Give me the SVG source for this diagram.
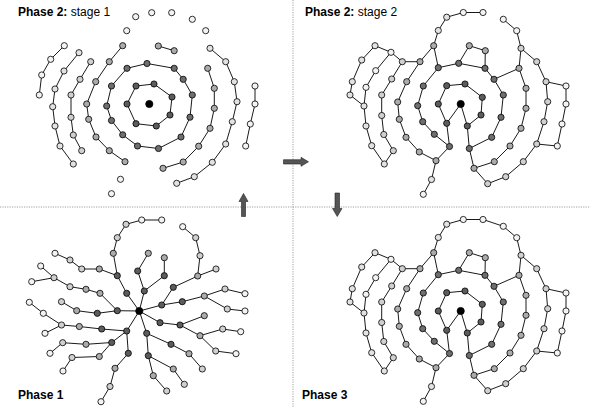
<svg xmlns="http://www.w3.org/2000/svg" width="590" height="407" viewBox="0 0 590 407">
<style>
text{font-family:"Liberation Sans",Arial,sans-serif;font-size:12px;fill:#000}
.b{font-weight:bold}
circle{stroke:#000;stroke-width:0.8}
.e path{stroke:#000;stroke-width:0.9;fill:none;stroke-linejoin:round}
.k0{fill:#000}.k1{fill:#5c5c5c}.k2{fill:#6e6e6e}.k3{fill:#ababab}.k4{fill:#d0d0d0}.k6{fill:#e2e2e2}.k5{fill:#f3f3f3}
.div{stroke:#888;stroke-width:0.8;stroke-dasharray:1.2 1.2;fill:none}
.arr{fill:#555;stroke:#222;stroke-width:0.6}
</style>
<rect width="590" height="407" fill="#fff"/>
<g id="dividers">
<path class="div" d="M0,207H590M293,0V407"/>
</g>
<g id="labels">
<text x="18" y="15.5"><tspan class="b">Phase 2:</tspan> stage 1</text>
<text x="305" y="15.5"><tspan class="b">Phase 2:</tspan> stage 2</text>
<text class="b" x="18" y="399">Phase 1</text>
<text class="b" x="302" y="399">Phase 3</text>
</g>
<g id="arrows">
<path id="arrow-right" class="arr" d="M283.5,159.7H301V157.3L308.5,161.8L301,166.3V164H283.5Z"/>
<path id="arrow-up" class="arr" d="M241.5,216.5V201.5H239L243.5,193.5L248,201.5H245.5V216.5Z"/>
<path id="arrow-down" class="arr" d="M335,193V208.5H332.5L337.25,216.5L342,208.5H339.5V193Z"/>
</g>

<g id="connectors" class="e">
<!-- top-left: stage 1 -->
<path d="M136,86L154,84L172,97L170,115L156.3,126L136,123.7L127,104Z"/>
<path d="M147,63.5L174.2,68.3L183.2,79.3L192.3,95L190,117.2L181,137L158.5,148.5L137.5,146L122.7,134.8L111.5,120.5L106.7,106L111.5,86L127,68.3Z"/>
<path d="M122.7,45.7L109.3,61.7L95.7,81.7L86.7,104L88.7,119.3L96,137L109.3,150.7L125,161.7"/>
<path d="M158.3,46L174.2,50.7"/>
<path d="M207.7,68.3L214.3,88.3L214.3,108.3L210,128.3L198.7,146.2L183.2,162L163,168.3"/>
<path d="M90.7,61.7L80,79.3L71,95L71,117.3L73.3,135L81.7,150.7"/>
<path d="M79,52.7L64,71L55,89L52.7,106.7L55,126L60,146L73.3,164"/>
<path d="M64.3,45.7L50.7,59.3L41.7,75L39.3,95"/>
<path d="M210,48.3L225.7,61.7L234.3,81.7L237,101.7L232.3,121.7L225.7,144L212.3,162.3L194.3,176.7L176.7,183.3"/>
<path d="M255,86L255,104L250.3,124L245.7,146"/>
<!-- top-right: stage 2 -->
<path d="M446.7,123.3L460.7,104L467.3,126"/>
<path d="M446.7,123.3L438.3,104L446.7,85.7L465,84L482.3,97.3L481,115L467.3,126L469.3,148.5"/>
<path d="M446.7,123.3L449.5,146.5"/>
<path d="M469.3,148.5L491.7,137.3L501,117.3L503.3,95L494,79.3L485,68.3L458.7,63.3L438.3,67.7L423.3,86L417.7,105.7L422.7,121.7L434.3,134.3L449.5,146.5"/>
<path d="M458.7,63.3L469.3,45.7L485.3,50.7L485,68.3"/>
<path d="M438.3,67.7L433.7,45.7L438.3,30.5L446.7,17.2L463.3,12.5L483,12.5"/>
<path d="M433.7,45.7L420,61.7L402.3,61.7L391,52.3L375,45.7"/>
<path d="M420,61.7L406.7,81.7L397.7,102L399.3,119.3L406,137.3L419.3,152L436,160.7L449.5,146.5"/>
<path d="M436,160.7L431.5,179.5L423.3,194.3"/>
<path d="M469.3,148.5L474,168.3L487.7,183.7L505.7,176.7L523.3,161.7L536.7,144L544,121.7L547.7,101.7L546,81.7L536.7,61.7L521,48.3"/>
<path d="M474,168.3L494.3,161.7L510,146L521,128.3L526,108.3L526,88.3L519,68.3L494,79.3"/>
<path d="M519,68.3L521,48.3L516.7,30.7L503.3,19.3"/>
<path d="M546,81.7L566,86L566,104L562,124L557.3,146L536.7,144"/>
<path d="M402.3,61.7L391.7,79L381.7,95L381.7,115.5L383.8,134.5L393.3,150.7L384.3,164"/>
<path d="M375,45.7L361.7,60L352.3,81.7L350,95L364,106L366,126L371.7,145.7L384.3,164"/>
<path d="M391,52.3L375.7,70.7L366,87.3L364,106"/>
<!-- bottom-right: phase 3 -->
<path d="M446.7,330.3L460.7,311L467.3,333"/>
<path d="M446.7,330.3L438.3,311L446.7,292.7L465,291L482.3,304.3L481,322L467.3,333L469.3,355.5"/>
<path d="M446.7,330.3L449.5,353.5"/>
<path d="M469.3,355.5L491.7,344.3L501,324.3L503.3,302L494,286.3L485,275.3L458.7,270.3L438.3,274.7L423.3,293L417.7,312.7L422.7,328.7L434.3,341.3L449.5,353.5"/>
<path d="M458.7,270.3L469.3,252.7L485.3,257.7L485,275.3"/>
<path d="M438.3,274.7L433.7,252.7L438.3,237.5L446.7,224.2L463.3,219.5L483,219.5L503.3,226.3"/>
<path d="M433.7,252.7L420,268.7L402.3,268.7L391,259.3L375,252.7"/>
<path d="M420,268.7L406.7,288.7L397.7,309L399.3,326.3L406,344.3L419.3,359L436,367.7L449.5,353.5"/>
<path d="M436,367.7L431.5,386.5L423.3,401.3"/>
<path d="M469.3,355.5L474,375.3L487.7,390.7L505.7,383.7L523.3,368.7L536.7,351L544,328.7L547.7,308.7L546,288.7L536.7,268.7L521,255.3"/>
<path d="M474,375.3L494.3,368.7L510,353L521,335.3L526,315.3L526,295.3L519,275.3L494,286.3"/>
<path d="M519,275.3L521,255.3L516.7,237.7L503.3,226.3"/>
<path d="M546,288.7L566,293L566,311L562,331L557.3,353L536.7,351"/>
<path d="M402.3,268.7L391.7,286L381.7,302L381.7,322.5L383.8,341.5L393.3,357.7L384.3,371"/>
<path d="M375,252.7L361.7,267L352.3,288.7L350,302L364,313L366,333L371.7,352.7L384.3,371"/>
<path d="M391,259.3L375.7,277.7L366,294.3L364,313"/>
<!-- bottom-left: phase 1 -->
<path d="M139.3,311L126.7,293.3L117.3,275.7L113.3,253.3L117.3,237.7L126,224.3L141.7,220L161.7,220"/>
<path d="M117.3,275.7L99.3,269L81.7,269L70,260L55,253.3"/>
<path d="M139.3,311L144.3,291L137.7,271L148.3,253.3"/>
<path d="M144.3,291L164.3,275.7L164.3,257.7"/>
<path d="M139.3,311L161.7,305L173.3,287.3L197.7,276L200,255.7L195.7,237.7L182.7,226.7"/>
<path d="M197.7,276L216,269"/>
<path d="M161.7,305L182.3,301.7L204.3,296L225,289L245,293.7"/>
<path d="M204.3,296L227.3,309L245,311"/>
<path d="M139.3,311L160,322.7L180,325L204.3,315.7"/>
<path d="M180,325L200,335.7L222.7,329L240.7,331.7"/>
<path d="M200,335.7L215.7,351L236,353.7"/>
<path d="M139.3,311L146.7,333.3L171,344.3L189,353.7L202.3,369"/>
<path d="M146.7,333.3L148.3,355.7L173.3,369L184.3,384.3"/>
<path d="M148.3,355.7L153.3,375.7L166.7,391"/>
<path d="M139.3,311L126.7,331L128.3,353.3L115,368.3L110,386.5L101,401.7"/>
<path d="M126.7,331L101.7,329L79.3,326.5L61.5,325L45,333.3"/>
<path d="M61.5,325L43.3,313.3L29.3,302.3"/>
<path d="M126.7,331L111.7,342.5L86,344.3L62.7,342.7L50,353.3"/>
<path d="M111.7,342.5L99.3,356.5L72,357.5L63,371"/>
<path d="M139.3,311L117.3,310.7L100,293.3L86,289.3L70,286.7L54,277.7L40.7,266"/>
<path d="M54,277.7L31.7,281.7"/>
<path d="M117.3,310.7L97.3,313.3L76.7,310.7L61.5,301.7"/>
</g>

<g id="nodes-stage1">
<g id="s1-c"><circle class="k0" cx="149.3" cy="104" r="3.6"/></g>
<g id="s1-a1"><circle class="k1" cx="136" cy="86" r="3.1"/></g>
<g id="s1-a2"><circle class="k1" cx="154" cy="84" r="3.1"/></g>
<g id="s1-a3"><circle class="k1" cx="172" cy="97" r="3.1"/></g>
<g id="s1-a4"><circle class="k1" cx="170" cy="115" r="3.1"/></g>
<g id="s1-a5"><circle class="k1" cx="156.3" cy="126" r="3.1"/></g>
<g id="s1-a6"><circle class="k1" cx="136" cy="123.7" r="3.1"/></g>
<g id="s1-a7"><circle class="k1" cx="127" cy="104" r="3.1"/></g>
<g id="s1-b1"><circle class="k2" cx="147" cy="63.5" r="3.1"/></g>
<g id="s1-b2"><circle class="k2" cx="174.2" cy="68.3" r="3.1"/></g>
<g id="s1-b3"><circle class="k2" cx="183.2" cy="79.3" r="3.1"/></g>
<g id="s1-b4"><circle class="k2" cx="192.3" cy="95" r="3.1"/></g>
<g id="s1-b5"><circle class="k2" cx="190" cy="117.2" r="3.1"/></g>
<g id="s1-b6"><circle class="k2" cx="181" cy="137" r="3.1"/></g>
<g id="s1-b7"><circle class="k2" cx="158.5" cy="148.5" r="3.1"/></g>
<g id="s1-b8"><circle class="k2" cx="137.5" cy="146" r="3.1"/></g>
<g id="s1-b9"><circle class="k2" cx="122.7" cy="134.8" r="3.1"/></g>
<g id="s1-b10"><circle class="k2" cx="111.5" cy="120.5" r="3.1"/></g>
<g id="s1-b11"><circle class="k2" cx="106.7" cy="106" r="3.1"/></g>
<g id="s1-b12"><circle class="k2" cx="111.5" cy="86" r="3.1"/></g>
<g id="s1-b13"><circle class="k2" cx="127" cy="68.3" r="3.1"/></g>
<g id="s1-d1"><circle class="k3" cx="122.7" cy="45.7" r="3.1"/></g>
<g id="s1-d2"><circle class="k3" cx="109.3" cy="61.7" r="3.1"/></g>
<g id="s1-d3"><circle class="k3" cx="95.7" cy="81.7" r="3.1"/></g>
<g id="s1-d4"><circle class="k3" cx="86.7" cy="104" r="3.1"/></g>
<g id="s1-d5"><circle class="k3" cx="88.7" cy="119.3" r="3.1"/></g>
<g id="s1-d6"><circle class="k3" cx="96" cy="137" r="3.1"/></g>
<g id="s1-d7"><circle class="k3" cx="109.3" cy="150.7" r="3.1"/></g>
<g id="s1-d8"><circle class="k3" cx="125" cy="161.7" r="3.1"/></g>
<g id="s1-p1"><circle class="k3" cx="158.3" cy="46" r="3.1"/></g>
<g id="s1-p2"><circle class="k3" cx="174.2" cy="50.7" r="3.1"/></g>
<g id="s1-m1"><circle class="k3" cx="207.7" cy="68.3" r="3.1"/></g>
<g id="s1-m2"><circle class="k3" cx="214.3" cy="88.3" r="3.1"/></g>
<g id="s1-m3"><circle class="k3" cx="214.3" cy="108.3" r="3.1"/></g>
<g id="s1-m4"><circle class="k3" cx="210" cy="128.3" r="3.1"/></g>
<g id="s1-m5"><circle class="k3" cx="198.7" cy="146.2" r="3.1"/></g>
<g id="s1-m6"><circle class="k3" cx="183.2" cy="162" r="3.1"/></g>
<g id="s1-m7"><circle class="k3" cx="163" cy="168.3" r="3.1"/></g>
<g id="s1-c1"><circle class="k4" cx="90.7" cy="61.7" r="3.1"/></g>
<g id="s1-c2"><circle class="k4" cx="80" cy="79.3" r="3.1"/></g>
<g id="s1-c3"><circle class="k4" cx="71" cy="95" r="3.1"/></g>
<g id="s1-c4"><circle class="k4" cx="71" cy="117.3" r="3.1"/></g>
<g id="s1-c5"><circle class="k4" cx="73.3" cy="135" r="3.1"/></g>
<g id="s1-c6"><circle class="k4" cx="81.7" cy="150.7" r="3.1"/></g>
<g id="s1-e1"><circle class="k6" cx="79" cy="52.7" r="3.1"/></g>
<g id="s1-e2"><circle class="k6" cx="64" cy="71" r="3.1"/></g>
<g id="s1-e3"><circle class="k6" cx="55" cy="89" r="3.1"/></g>
<g id="s1-e4"><circle class="k6" cx="52.7" cy="106.7" r="3.1"/></g>
<g id="s1-e5"><circle class="k6" cx="55" cy="126" r="3.1"/></g>
<g id="s1-e6"><circle class="k6" cx="60" cy="146" r="3.1"/></g>
<g id="s1-e7"><circle class="k6" cx="73.3" cy="164" r="3.1"/></g>
<g id="s1-f1"><circle class="k5" cx="64.3" cy="45.7" r="3.1"/></g>
<g id="s1-f2"><circle class="k5" cx="50.7" cy="59.3" r="3.1"/></g>
<g id="s1-f3"><circle class="k5" cx="41.7" cy="75" r="3.1"/></g>
<g id="s1-f4"><circle class="k5" cx="39.3" cy="95" r="3.1"/></g>
<g id="s1-g1"><circle class="k6" cx="210" cy="48.3" r="3.1"/></g>
<g id="s1-g2"><circle class="k6" cx="225.7" cy="61.7" r="3.1"/></g>
<g id="s1-g3"><circle class="k6" cx="234.3" cy="81.7" r="3.1"/></g>
<g id="s1-g4"><circle class="k6" cx="237" cy="101.7" r="3.1"/></g>
<g id="s1-g5"><circle class="k6" cx="232.3" cy="121.7" r="3.1"/></g>
<g id="s1-g6"><circle class="k6" cx="225.7" cy="144" r="3.1"/></g>
<g id="s1-g7"><circle class="k6" cx="212.3" cy="162.3" r="3.1"/></g>
<g id="s1-g8"><circle class="k6" cx="194.3" cy="176.7" r="3.1"/></g>
<g id="s1-g9"><circle class="k6" cx="176.7" cy="183.3" r="3.1"/></g>
<g id="s1-h1"><circle class="k5" cx="255" cy="86" r="3.1"/></g>
<g id="s1-h2"><circle class="k5" cx="255" cy="104" r="3.1"/></g>
<g id="s1-h3"><circle class="k5" cx="250.3" cy="124" r="3.1"/></g>
<g id="s1-h4"><circle class="k5" cx="245.7" cy="146" r="3.1"/></g>
<g id="s1-t1"><circle class="k5" cx="126.7" cy="30.7" r="3.1"/></g>
<g id="s1-t2"><circle class="k5" cx="135.7" cy="16.7" r="3.1"/></g>
<g id="s1-t3"><circle class="k5" cx="151.7" cy="12.7" r="3.1"/></g>
<g id="s1-t4"><circle class="k5" cx="171.7" cy="12.7" r="3.1"/></g>
<g id="s1-t5"><circle class="k5" cx="192.3" cy="19.3" r="3.1"/></g>
<g id="s1-t6"><circle class="k5" cx="205.7" cy="30.7" r="3.1"/></g>
<g id="s1-u1"><circle class="k5" cx="120.5" cy="179.3" r="3.1"/></g>
<g id="s1-u2"><circle class="k5" cx="111.5" cy="193.7" r="3.1"/></g>
</g>

<g id="nodes-stage2">
<g id="s2-c"><circle class="k0" cx="460.7" cy="104" r="3.6"/></g>
<g id="s2-i1"><circle class="k1" cx="446.7" cy="123.3" r="3.1"/></g>
<g id="s2-i2"><circle class="k1" cx="438.3" cy="104" r="3.1"/></g>
<g id="s2-i3"><circle class="k1" cx="446.7" cy="85.7" r="3.1"/></g>
<g id="s2-i4"><circle class="k1" cx="465" cy="84" r="3.1"/></g>
<g id="s2-i5"><circle class="k1" cx="482.3" cy="97.3" r="3.1"/></g>
<g id="s2-i6"><circle class="k1" cx="481" cy="115" r="3.1"/></g>
<g id="s2-i7"><circle class="k1" cx="467.3" cy="126" r="3.1"/></g>
<g id="s2-r1"><circle class="k2" cx="469.3" cy="148.5" r="3.1"/></g>
<g id="s2-r2"><circle class="k2" cx="491.7" cy="137.3" r="3.1"/></g>
<g id="s2-r3"><circle class="k2" cx="501" cy="117.3" r="3.1"/></g>
<g id="s2-r4"><circle class="k2" cx="503.3" cy="95" r="3.1"/></g>
<g id="s2-r5"><circle class="k2" cx="494" cy="79.3" r="3.1"/></g>
<g id="s2-r6"><circle class="k2" cx="485" cy="68.3" r="3.1"/></g>
<g id="s2-r7"><circle class="k2" cx="458.7" cy="63.3" r="3.1"/></g>
<g id="s2-r8"><circle class="k2" cx="438.3" cy="67.7" r="3.1"/></g>
<g id="s2-r9"><circle class="k2" cx="423.3" cy="86" r="3.1"/></g>
<g id="s2-r10"><circle class="k2" cx="417.7" cy="105.7" r="3.1"/></g>
<g id="s2-r11"><circle class="k2" cx="422.7" cy="121.7" r="3.1"/></g>
<g id="s2-r12"><circle class="k2" cx="434.3" cy="134.3" r="3.1"/></g>
<g id="s2-r13"><circle class="k2" cx="449.5" cy="146.5" r="3.1"/></g>
<g id="s2-m1"><circle class="k3" cx="469.3" cy="45.7" r="3.1"/></g>
<g id="s2-m2"><circle class="k3" cx="485.3" cy="50.7" r="3.1"/></g>
<g id="s2-m3"><circle class="k3" cx="433.7" cy="45.7" r="3.1"/></g>
<g id="s2-m4"><circle class="k3" cx="420" cy="61.7" r="3.1"/></g>
<g id="s2-m5"><circle class="k3" cx="406.7" cy="81.7" r="3.1"/></g>
<g id="s2-m6"><circle class="k3" cx="397.7" cy="102" r="3.1"/></g>
<g id="s2-m7"><circle class="k3" cx="399.3" cy="119.3" r="3.1"/></g>
<g id="s2-m8"><circle class="k3" cx="406" cy="137.3" r="3.1"/></g>
<g id="s2-m9"><circle class="k3" cx="419.3" cy="152" r="3.1"/></g>
<g id="s2-m10"><circle class="k3" cx="436" cy="160.7" r="3.1"/></g>
<g id="s2-m11"><circle class="k3" cx="474" cy="168.3" r="3.1"/></g>
<g id="s2-m12"><circle class="k3" cx="494.3" cy="161.7" r="3.1"/></g>
<g id="s2-m13"><circle class="k3" cx="510" cy="146" r="3.1"/></g>
<g id="s2-m14"><circle class="k3" cx="521" cy="128.3" r="3.1"/></g>
<g id="s2-m15"><circle class="k3" cx="526" cy="108.3" r="3.1"/></g>
<g id="s2-m16"><circle class="k3" cx="526" cy="88.3" r="3.1"/></g>
<g id="s2-m17"><circle class="k3" cx="519" cy="68.3" r="3.1"/></g>
<g id="s2-l1"><circle class="k6" cx="438.3" cy="30.5" r="3.1"/></g>
<g id="s2-l2"><circle class="k6" cx="446.7" cy="17.2" r="3.1"/></g>
<g id="s2-l3"><circle class="k4" cx="402.3" cy="61.7" r="3.1"/></g>
<g id="s2-l4"><circle class="k4" cx="391.7" cy="79" r="3.1"/></g>
<g id="s2-l5"><circle class="k4" cx="381.7" cy="95" r="3.1"/></g>
<g id="s2-l6"><circle class="k4" cx="381.7" cy="115.5" r="3.1"/></g>
<g id="s2-l7"><circle class="k4" cx="383.8" cy="134.5" r="3.1"/></g>
<g id="s2-l8"><circle class="k4" cx="393.3" cy="150.7" r="3.1"/></g>
<g id="s2-l9"><circle class="k6" cx="431.5" cy="179.5" r="3.1"/></g>
<g id="s2-l10"><circle class="k4" cx="521" cy="48.3" r="3.1"/></g>
<g id="s2-l11"><circle class="k4" cx="536.7" cy="61.7" r="3.1"/></g>
<g id="s2-l12"><circle class="k4" cx="546" cy="81.7" r="3.1"/></g>
<g id="s2-l13"><circle class="k4" cx="547.7" cy="101.7" r="3.1"/></g>
<g id="s2-l14"><circle class="k4" cx="544" cy="121.7" r="3.1"/></g>
<g id="s2-l15"><circle class="k4" cx="536.7" cy="144" r="3.1"/></g>
<g id="s2-l16"><circle class="k4" cx="523.3" cy="161.7" r="3.1"/></g>
<g id="s2-l17"><circle class="k4" cx="505.7" cy="176.7" r="3.1"/></g>
<g id="s2-l18"><circle class="k4" cx="487.7" cy="183.7" r="3.1"/></g>
<g id="s2-w1"><circle class="k5" cx="463.3" cy="12.5" r="3.1"/></g>
<g id="s2-w2"><circle class="k5" cx="483" cy="12.5" r="3.1"/></g>
<g id="s2-w3"><circle class="k5" cx="503.3" cy="19.3" r="3.1"/></g>
<g id="s2-w4"><circle class="k5" cx="516.7" cy="30.7" r="3.1"/></g>
<g id="s2-w5"><circle class="k5" cx="566" cy="86" r="3.1"/></g>
<g id="s2-w6"><circle class="k5" cx="566" cy="104" r="3.1"/></g>
<g id="s2-w7"><circle class="k5" cx="562" cy="124" r="3.1"/></g>
<g id="s2-w8"><circle class="k5" cx="557.3" cy="146" r="3.1"/></g>
<g id="s2-w9"><circle class="k5" cx="423.3" cy="194.3" r="3.1"/></g>
<g id="s2-w10"><circle class="k6" cx="375" cy="45.7" r="3.1"/></g>
<g id="s2-w11"><circle class="k5" cx="391" cy="52.3" r="3.1"/></g>
<g id="s2-w12"><circle class="k6" cx="361.7" cy="60" r="3.1"/></g>
<g id="s2-w13"><circle class="k6" cx="352.3" cy="81.7" r="3.1"/></g>
<g id="s2-w14"><circle class="k6" cx="350" cy="95" r="3.1"/></g>
<g id="s2-w15"><circle class="k6" cx="364" cy="106" r="3.1"/></g>
<g id="s2-w16"><circle class="k6" cx="366" cy="126" r="3.1"/></g>
<g id="s2-w17"><circle class="k6" cx="371.7" cy="145.7" r="3.1"/></g>
<g id="s2-w18"><circle class="k6" cx="384.3" cy="164" r="3.1"/></g>
<g id="s2-w19"><circle class="k5" cx="375.7" cy="70.7" r="3.1"/></g>
<g id="s2-w20"><circle class="k5" cx="366" cy="87.3" r="3.1"/></g>
</g>

<g id="nodes-phase3">
<g id="p3-c"><circle class="k0" cx="460.7" cy="311" r="3.6"/></g>
<g id="p3-i1"><circle class="k1" cx="446.7" cy="330.3" r="3.1"/></g>
<g id="p3-i2"><circle class="k1" cx="438.3" cy="311" r="3.1"/></g>
<g id="p3-i3"><circle class="k1" cx="446.7" cy="292.7" r="3.1"/></g>
<g id="p3-i4"><circle class="k1" cx="465" cy="291" r="3.1"/></g>
<g id="p3-i5"><circle class="k1" cx="482.3" cy="304.3" r="3.1"/></g>
<g id="p3-i6"><circle class="k1" cx="481" cy="322" r="3.1"/></g>
<g id="p3-i7"><circle class="k1" cx="467.3" cy="333" r="3.1"/></g>
<g id="p3-r1"><circle class="k2" cx="469.3" cy="355.5" r="3.1"/></g>
<g id="p3-r2"><circle class="k2" cx="491.7" cy="344.3" r="3.1"/></g>
<g id="p3-r3"><circle class="k2" cx="501" cy="324.3" r="3.1"/></g>
<g id="p3-r4"><circle class="k2" cx="503.3" cy="302" r="3.1"/></g>
<g id="p3-r5"><circle class="k2" cx="494" cy="286.3" r="3.1"/></g>
<g id="p3-r6"><circle class="k2" cx="485" cy="275.3" r="3.1"/></g>
<g id="p3-r7"><circle class="k2" cx="458.7" cy="270.3" r="3.1"/></g>
<g id="p3-r8"><circle class="k2" cx="438.3" cy="274.7" r="3.1"/></g>
<g id="p3-r9"><circle class="k2" cx="423.3" cy="293" r="3.1"/></g>
<g id="p3-r10"><circle class="k2" cx="417.7" cy="312.7" r="3.1"/></g>
<g id="p3-r11"><circle class="k2" cx="422.7" cy="328.7" r="3.1"/></g>
<g id="p3-r12"><circle class="k2" cx="434.3" cy="341.3" r="3.1"/></g>
<g id="p3-r13"><circle class="k2" cx="449.5" cy="353.5" r="3.1"/></g>
<g id="p3-m1"><circle class="k3" cx="469.3" cy="252.7" r="3.1"/></g>
<g id="p3-m2"><circle class="k3" cx="485.3" cy="257.7" r="3.1"/></g>
<g id="p3-m3"><circle class="k3" cx="433.7" cy="252.7" r="3.1"/></g>
<g id="p3-m4"><circle class="k3" cx="420" cy="268.7" r="3.1"/></g>
<g id="p3-m5"><circle class="k3" cx="406.7" cy="288.7" r="3.1"/></g>
<g id="p3-m6"><circle class="k3" cx="397.7" cy="309" r="3.1"/></g>
<g id="p3-m7"><circle class="k3" cx="399.3" cy="326.3" r="3.1"/></g>
<g id="p3-m8"><circle class="k3" cx="406" cy="344.3" r="3.1"/></g>
<g id="p3-m9"><circle class="k3" cx="419.3" cy="359" r="3.1"/></g>
<g id="p3-m10"><circle class="k3" cx="436" cy="367.7" r="3.1"/></g>
<g id="p3-m11"><circle class="k3" cx="474" cy="375.3" r="3.1"/></g>
<g id="p3-m12"><circle class="k3" cx="494.3" cy="368.7" r="3.1"/></g>
<g id="p3-m13"><circle class="k3" cx="510" cy="353" r="3.1"/></g>
<g id="p3-m14"><circle class="k3" cx="521" cy="335.3" r="3.1"/></g>
<g id="p3-m15"><circle class="k3" cx="526" cy="315.3" r="3.1"/></g>
<g id="p3-m16"><circle class="k3" cx="526" cy="295.3" r="3.1"/></g>
<g id="p3-m17"><circle class="k3" cx="519" cy="275.3" r="3.1"/></g>
<g id="p3-l1"><circle class="k6" cx="438.3" cy="237.5" r="3.1"/></g>
<g id="p3-l2"><circle class="k6" cx="446.7" cy="224.2" r="3.1"/></g>
<g id="p3-l3"><circle class="k4" cx="402.3" cy="268.7" r="3.1"/></g>
<g id="p3-l4"><circle class="k4" cx="391.7" cy="286" r="3.1"/></g>
<g id="p3-l5"><circle class="k4" cx="381.7" cy="302" r="3.1"/></g>
<g id="p3-l6"><circle class="k4" cx="381.7" cy="322.5" r="3.1"/></g>
<g id="p3-l7"><circle class="k4" cx="383.8" cy="341.5" r="3.1"/></g>
<g id="p3-l8"><circle class="k4" cx="393.3" cy="357.7" r="3.1"/></g>
<g id="p3-l9"><circle class="k6" cx="431.5" cy="386.5" r="3.1"/></g>
<g id="p3-l10"><circle class="k4" cx="521" cy="255.3" r="3.1"/></g>
<g id="p3-l11"><circle class="k4" cx="536.7" cy="268.7" r="3.1"/></g>
<g id="p3-l12"><circle class="k4" cx="546" cy="288.7" r="3.1"/></g>
<g id="p3-l13"><circle class="k4" cx="547.7" cy="308.7" r="3.1"/></g>
<g id="p3-l14"><circle class="k4" cx="544" cy="328.7" r="3.1"/></g>
<g id="p3-l15"><circle class="k4" cx="536.7" cy="351" r="3.1"/></g>
<g id="p3-l16"><circle class="k4" cx="523.3" cy="368.7" r="3.1"/></g>
<g id="p3-l17"><circle class="k4" cx="505.7" cy="383.7" r="3.1"/></g>
<g id="p3-l18"><circle class="k4" cx="487.7" cy="390.7" r="3.1"/></g>
<g id="p3-w1"><circle class="k5" cx="463.3" cy="219.5" r="3.1"/></g>
<g id="p3-w2"><circle class="k5" cx="483" cy="219.5" r="3.1"/></g>
<g id="p3-w3"><circle class="k5" cx="503.3" cy="226.3" r="3.1"/></g>
<g id="p3-w4"><circle class="k5" cx="516.7" cy="237.7" r="3.1"/></g>
<g id="p3-w5"><circle class="k5" cx="566" cy="293" r="3.1"/></g>
<g id="p3-w6"><circle class="k5" cx="566" cy="311" r="3.1"/></g>
<g id="p3-w7"><circle class="k5" cx="562" cy="331" r="3.1"/></g>
<g id="p3-w8"><circle class="k5" cx="557.3" cy="353" r="3.1"/></g>
<g id="p3-w9"><circle class="k5" cx="423.3" cy="401.3" r="3.1"/></g>
<g id="p3-w10"><circle class="k6" cx="375" cy="252.7" r="3.1"/></g>
<g id="p3-w11"><circle class="k5" cx="391" cy="259.3" r="3.1"/></g>
<g id="p3-w12"><circle class="k6" cx="361.7" cy="267" r="3.1"/></g>
<g id="p3-w13"><circle class="k6" cx="352.3" cy="288.7" r="3.1"/></g>
<g id="p3-w14"><circle class="k6" cx="350" cy="302" r="3.1"/></g>
<g id="p3-w15"><circle class="k6" cx="364" cy="313" r="3.1"/></g>
<g id="p3-w16"><circle class="k6" cx="366" cy="333" r="3.1"/></g>
<g id="p3-w17"><circle class="k6" cx="371.7" cy="352.7" r="3.1"/></g>
<g id="p3-w18"><circle class="k6" cx="384.3" cy="371" r="3.1"/></g>
<g id="p3-w19"><circle class="k5" cx="375.7" cy="277.7" r="3.1"/></g>
<g id="p3-w20"><circle class="k5" cx="366" cy="294.3" r="3.1"/></g>
</g>

<g id="nodes-phase1">
<g id="p1-c"><circle class="k0" cx="139.3" cy="311" r="3.6"/></g>
<g id="p1-n1"><circle class="k1" cx="126.7" cy="293.3" r="3.1"/></g>
<g id="p1-n2"><circle class="k1" cx="117.3" cy="275.7" r="3.1"/></g>
<g id="p1-n3"><circle class="k3" cx="113.3" cy="253.3" r="3.1"/></g>
<g id="p1-n4"><circle class="k4" cx="117.3" cy="237.7" r="3.1"/></g>
<g id="p1-n5"><circle class="k4" cx="126" cy="224.3" r="3.1"/></g>
<g id="p1-n6"><circle class="k5" cx="141.7" cy="220" r="3.1"/></g>
<g id="p1-n7"><circle class="k5" cx="161.7" cy="220" r="3.1"/></g>
<g id="p1-n8"><circle class="k3" cx="99.3" cy="269" r="3.1"/></g>
<g id="p1-n9"><circle class="k4" cx="81.7" cy="269" r="3.1"/></g>
<g id="p1-n10"><circle class="k4" cx="70" cy="260" r="3.1"/></g>
<g id="p1-n11"><circle class="k5" cx="55" cy="253.3" r="3.1"/></g>
<g id="p1-n12"><circle class="k1" cx="144.3" cy="291" r="3.1"/></g>
<g id="p1-n13"><circle class="k1" cx="137.7" cy="271" r="3.1"/></g>
<g id="p1-n14"><circle class="k3" cx="148.3" cy="253.3" r="3.1"/></g>
<g id="p1-n15"><circle class="k1" cx="164.3" cy="275.7" r="3.1"/></g>
<g id="p1-n16"><circle class="k3" cx="164.3" cy="257.7" r="3.1"/></g>
<g id="p1-n17"><circle class="k1" cx="161.7" cy="305" r="3.1"/></g>
<g id="p1-n18"><circle class="k1" cx="173.3" cy="287.3" r="3.1"/></g>
<g id="p1-n19"><circle class="k3" cx="197.7" cy="276" r="3.1"/></g>
<g id="p1-n20"><circle class="k4" cx="200" cy="255.7" r="3.1"/></g>
<g id="p1-n21"><circle class="k4" cx="195.7" cy="237.7" r="3.1"/></g>
<g id="p1-n22"><circle class="k5" cx="182.7" cy="226.7" r="3.1"/></g>
<g id="p1-n23"><circle class="k4" cx="216" cy="269" r="3.1"/></g>
<g id="p1-n24"><circle class="k1" cx="182.3" cy="301.7" r="3.1"/></g>
<g id="p1-n25"><circle class="k3" cx="204.3" cy="296" r="3.1"/></g>
<g id="p1-n26"><circle class="k4" cx="225" cy="289" r="3.1"/></g>
<g id="p1-n27"><circle class="k5" cx="245" cy="293.7" r="3.1"/></g>
<g id="p1-n28"><circle class="k4" cx="227.3" cy="309" r="3.1"/></g>
<g id="p1-n29"><circle class="k5" cx="245" cy="311" r="3.1"/></g>
<g id="p1-n30"><circle class="k1" cx="160" cy="322.7" r="3.1"/></g>
<g id="p1-n31"><circle class="k1" cx="180" cy="325" r="3.1"/></g>
<g id="p1-n32"><circle class="k3" cx="204.3" cy="315.7" r="3.1"/></g>
<g id="p1-n33"><circle class="k3" cx="200" cy="335.7" r="3.1"/></g>
<g id="p1-n34"><circle class="k4" cx="222.7" cy="329" r="3.1"/></g>
<g id="p1-n35"><circle class="k5" cx="240.7" cy="331.7" r="3.1"/></g>
<g id="p1-n36"><circle class="k4" cx="215.7" cy="351" r="3.1"/></g>
<g id="p1-n37"><circle class="k5" cx="236" cy="353.7" r="3.1"/></g>
<g id="p1-n38"><circle class="k1" cx="146.7" cy="333.3" r="3.1"/></g>
<g id="p1-n39"><circle class="k1" cx="171" cy="344.3" r="3.1"/></g>
<g id="p1-n40"><circle class="k3" cx="189" cy="353.7" r="3.1"/></g>
<g id="p1-n41"><circle class="k4" cx="202.3" cy="369" r="3.1"/></g>
<g id="p1-n42"><circle class="k1" cx="148.3" cy="355.7" r="3.1"/></g>
<g id="p1-n43"><circle class="k3" cx="173.3" cy="369" r="3.1"/></g>
<g id="p1-n44"><circle class="k4" cx="184.3" cy="384.3" r="3.1"/></g>
<g id="p1-n45"><circle class="k3" cx="153.3" cy="375.7" r="3.1"/></g>
<g id="p1-n46"><circle class="k4" cx="166.7" cy="391" r="3.1"/></g>
<g id="p1-n47"><circle class="k1" cx="126.7" cy="331" r="3.1"/></g>
<g id="p1-n48"><circle class="k1" cx="128.3" cy="353.3" r="3.1"/></g>
<g id="p1-n49"><circle class="k3" cx="115" cy="368.3" r="3.1"/></g>
<g id="p1-n50"><circle class="k4" cx="110" cy="386.5" r="3.1"/></g>
<g id="p1-n51"><circle class="k5" cx="101" cy="401.7" r="3.1"/></g>
<g id="p1-n52"><circle class="k1" cx="101.7" cy="329" r="3.1"/></g>
<g id="p1-n53"><circle class="k3" cx="79.3" cy="326.5" r="3.1"/></g>
<g id="p1-n54"><circle class="k4" cx="61.5" cy="325" r="3.1"/></g>
<g id="p1-n55"><circle class="k5" cx="45" cy="333.3" r="3.1"/></g>
<g id="p1-n56"><circle class="k1" cx="111.7" cy="342.5" r="3.1"/></g>
<g id="p1-n57"><circle class="k3" cx="86" cy="344.3" r="3.1"/></g>
<g id="p1-n58"><circle class="k4" cx="62.7" cy="342.7" r="3.1"/></g>
<g id="p1-n59"><circle class="k5" cx="50" cy="353.3" r="3.1"/></g>
<g id="p1-n60"><circle class="k3" cx="99.3" cy="356.5" r="3.1"/></g>
<g id="p1-n61"><circle class="k4" cx="72" cy="357.5" r="3.1"/></g>
<g id="p1-n62"><circle class="k5" cx="63" cy="371" r="3.1"/></g>
<g id="p1-n63"><circle class="k1" cx="117.3" cy="310.7" r="3.1"/></g>
<g id="p1-n64"><circle class="k3" cx="100" cy="293.3" r="3.1"/></g>
<g id="p1-n65"><circle class="k3" cx="86" cy="289.3" r="3.1"/></g>
<g id="p1-n66"><circle class="k4" cx="70" cy="286.7" r="3.1"/></g>
<g id="p1-n67"><circle class="k4" cx="54" cy="277.7" r="3.1"/></g>
<g id="p1-n68"><circle class="k5" cx="40.7" cy="266" r="3.1"/></g>
<g id="p1-n69"><circle class="k5" cx="31.7" cy="281.7" r="3.1"/></g>
<g id="p1-n70"><circle class="k1" cx="97.3" cy="313.3" r="3.1"/></g>
<g id="p1-n71"><circle class="k3" cx="76.7" cy="310.7" r="3.1"/></g>
<g id="p1-n72"><circle class="k4" cx="61.5" cy="301.7" r="3.1"/></g>
<g id="p1-n73"><circle class="k5" cx="43.3" cy="313.3" r="3.1"/></g>
<g id="p1-n74"><circle class="k5" cx="29.3" cy="302.3" r="3.1"/></g>
</g>
</svg>
